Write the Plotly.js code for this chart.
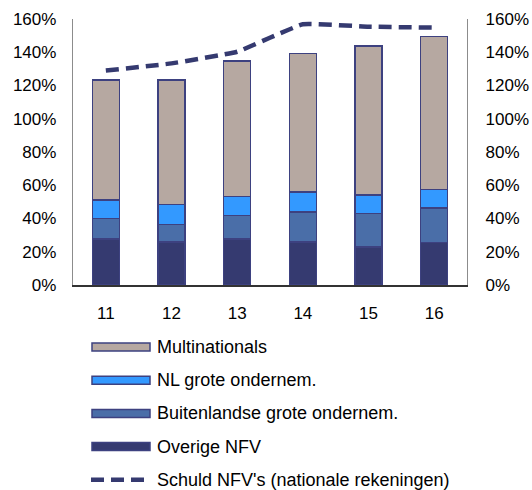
<!DOCTYPE html>
<html>
<head>
<meta charset="utf-8">
<script src="https://cdn.plot.ly/plotly-3.0.1.min.js"></script>
<style>
html,body{margin:0;padding:0;background:#fff;}
#chart{width:532px;height:490px;}
</style>
</head>
<body>
<div id="chart"></div>
<script>
var years = ['11', '12', '13', '14', '15', '16'];
var overige = [27.7, 26.0, 27.7, 25.9, 23.0, 25.7];
var buitenlandse = [12.4, 10.5, 14.0, 18.0, 19.9, 20.6];
var nlGrote = [11.0, 12.0, 11.4, 11.9, 11.2, 11.2];
var multinationals = [72.2, 74.8, 81.6, 83.5, 89.7, 91.9];
var schuld = [129.0, 133.3, 140.3, 156.8, 155.4, 154.8];

var yTicks = [0, 20, 40, 60, 80, 100, 120, 140, 160];

var names = {
  multi: 'Multinationals',
  nl: 'NL grote ondernem.',
  buit: 'Buitenlandse grote ondernem.',
  ov: 'Overige NFV',
  schuld: "Schuld NFV's (nationale rekeningen)"
};
var colors = {
  multi: '#b6a8a1',
  nl: '#3399ff',
  buit: '#4a6ea8',
  ov: '#353a70',
  line: '#353a70',
  outline: '#3d4180'
};

var W = 532, H = 490;
var M = {l: 73, r: 65, t: 19, b: 205};
var plotW = W - M.l - M.r, plotH = H - M.t - M.b;
function px2x(px) { return (px - M.l) / plotW; }
function px2y(py) { return (H - M.b - py) / plotH; }

var font = {family: '"Liberation Sans", Arial, sans-serif', size: 17, color: '#000'};
var legendFont = {family: '"Liberation Sans", Arial, sans-serif', size: 18, color: '#000'};

function barTrace(vals, name, color) {
  return {
    type: 'bar', x: years, y: vals, name: name,
    marker: {color: color, line: {color: colors.outline, width: 1.5}},
    width: 0.41, showlegend: false, hoverinfo: 'y+name'
  };
}

var traces = [
  barTrace(overige, names.ov, colors.ov),
  barTrace(buitenlandse, names.buit, colors.buit),
  barTrace(nlGrote, names.nl, colors.nl),
  barTrace(multinationals, names.multi, colors.multi),
  {
    type: 'scatter', mode: 'lines', x: years, y: schuld, name: names.schuld,
    yaxis: 'y2', line: {color: colors.line, width: 4.5, dash: '13px,7px', shape: 'spline', smoothing: 0.3},
    showlegend: false
  }
];

// manual legend (wide swatches)
var legendItems = [
  {name: names.multi, color: colors.multi, kind: 'bar'},
  {name: names.nl, color: colors.nl, kind: 'bar'},
  {name: names.buit, color: colors.buit, kind: 'bar'},
  {name: names.ov, color: colors.ov, kind: 'bar'},
  {name: names.schuld, color: colors.line, kind: 'line'}
];
var shapes = [], annotations = [];
var rowY0 = 347, rowStep = 33.2;
legendItems.forEach(function (it, i) {
  var cy = rowY0 + i * rowStep;
  if (it.kind === 'bar') {
    shapes.push({
      type: 'rect', xref: 'paper', yref: 'paper',
      x0: px2x(92), x1: px2x(150), y0: px2y(cy + 4), y1: px2y(cy - 4),
      fillcolor: it.color, line: {color: colors.outline, width: 1.5}
    });
  } else {
    shapes.push({
      type: 'line', xref: 'paper', yref: 'paper',
      x0: px2x(91), x1: px2x(144), y0: px2y(cy), y1: px2y(cy),
      line: {color: it.color, width: 4.5, dash: '13px,7px'}
    });
  }
  annotations.push({
    xref: 'paper', yref: 'paper', x: px2x(155), y: px2y(cy),
    xanchor: 'left', yanchor: 'middle', showarrow: false,
    text: it.name, font: legendFont
  });
});

var yAxisCommon = {
  range: [0, 160], tickvals: yTicks, ticktext: yTicks.map(function (v) { return v + '%'; }),
  showgrid: false, zeroline: false, showline: true, linecolor: '#8c8c8c', linewidth: 1.2,
  ticks: '', tickfont: font, fixedrange: true, ticklabelstandoff: 12
};

var layout = {
  width: W, height: H,
  margin: M,
  paper_bgcolor: '#fff', plot_bgcolor: '#fff',
  barmode: 'stack',
  showlegend: false,
  font: font,
  xaxis: {
    type: 'category', showgrid: false, zeroline: false, showline: true,
    linecolor: '#333', linewidth: 1.5, ticks: '', tickfont: font, ticklabelstandoff: 12
  },
  yaxis: Object.assign({}, yAxisCommon, {side: 'left'}),
  yaxis2: Object.assign({}, yAxisCommon, {side: 'right', overlaying: 'y', ticklabelstandoff: 14}),
  shapes: shapes,
  annotations: annotations
};

Plotly.newPlot('chart', traces, layout, {displayModeBar: false, staticPlot: true});
</script>
</body>
</html>
